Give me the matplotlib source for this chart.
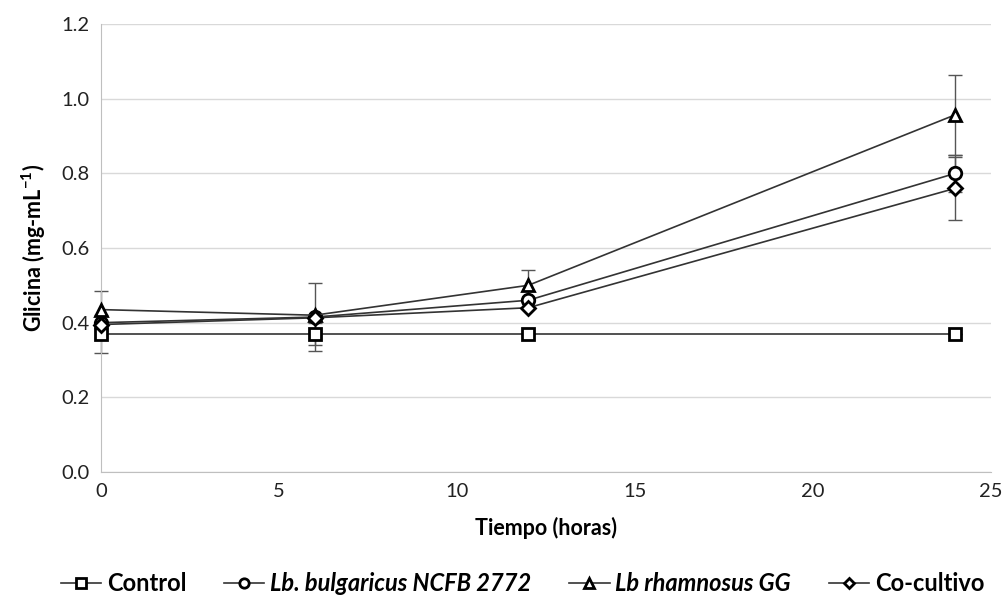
import matplotlib
matplotlib.use("Agg")
import matplotlib.pyplot as plt
import numpy as np

plt.rcParams['font.family'] = ['Lato', 'DejaVu Sans']
plt.rcParams['mathtext.fontset'] = 'custom'
plt.rcParams['mathtext.rm'] = 'Lato'
plt.rcParams['mathtext.bf'] = 'Lato:bold'

tiempo = [0, 6, 12, 24]
control = [0.37, 0.37, 0.37, 0.37]
bulgaricus = [0.40, 0.415, 0.46, 0.80]
rhamnosus = [0.435, 0.42, 0.50, 0.957]
cocultivo = [0.395, 0.413, 0.44, 0.76]

err_control = [0.05, 0.03, 0.0, 0.0]
err_bulgaricus = [0.0, 0.09, 0.0, 0.05]
err_rhamnosus = [0.05, 0.0, 0.04, 0.107]
err_cocultivo = [0.0, 0.0, 0.0, 0.085]

series = [
    ("Control", control, err_control, "s", "normal"),
    ("Lb. bulgaricus NCFB 2772", bulgaricus, err_bulgaricus, "o", "italic"),
    ("Lb rhamnosus GG", rhamnosus, err_rhamnosus, "^", "italic"),
    ("Co-cultivo", cocultivo, err_cocultivo, "D", "normal"),
]

fig = plt.figure(figsize=(10.05, 6.08), dpi=100)
ax = fig.add_axes([0.1005, 0.2237, 0.8856, 0.7368])

handles = []
for name, vals, err, mk, style in series:
    ms = 9 if mk != "D" else 7
    ax.errorbar(tiempo, vals, yerr=err, fmt='none', ecolor='#555555',
                elinewidth=1.0, capsize=5, capthick=1.0, zorder=2, clip_on=False)
    h, = ax.plot(tiempo, vals, color='#333333', lw=1.2, marker=mk, ms=ms,
                 mfc='white', mec='black', mew=2, zorder=3, label=name, clip_on=False)
    handles.append(h)

ax.set_xlim(0, 25)
ax.set_ylim(0, 1.2)
ax.set_xticks([0, 5, 10, 15, 20, 25])
ax.set_yticks(np.arange(0, 1.21, 0.2))
ax.set_yticklabels([f"{v:.1f}" for v in np.arange(0, 1.21, 0.2)])
ax.tick_params(length=0, labelsize=14.5, colors='#222222', pad=8)
ax.grid(axis='y', color='#d9d9d9', lw=1)
ax.set_axisbelow(True)
for s in ['top', 'right']:
    ax.spines[s].set_visible(False)
for s in ['left', 'bottom']:
    ax.spines[s].set_color('#bfbfbf')

ax.set_xlabel("Tiempo (horas)", fontsize=15.5, fontweight='bold', labelpad=12)
ax.set_ylabel("Glicina (mg-mL$^{\\mathbf{-1}}$)", fontsize=15.5, fontweight='bold', labelpad=10)

leg = fig.legend(handles=handles, loc='center', bbox_to_anchor=(0.52, 0.04), ncol=4,
                 frameon=False, fontsize=17, handlelength=1.7, handletextpad=0.25,
                 columnspacing=1.6, markerscale=0.75)
for t, (_, _, _, _, style) in zip(leg.get_texts(), series):
    t.set_fontweight('bold')
    t.set_fontstyle(style)

fig.savefig("out.png", dpi=100)
